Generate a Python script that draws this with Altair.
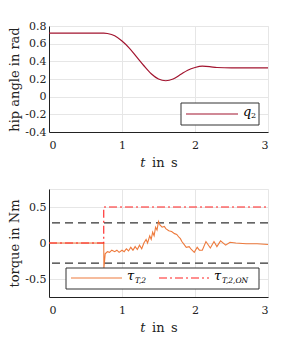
import altair as alt
import pandas as pd

# hip angle q2
q_t = [0.0, 0.75, 0.8, 0.9, 1.0, 1.1, 1.2, 1.3, 1.4, 1.5, 1.6, 1.7, 1.8, 1.9, 2.0, 2.1, 2.2, 2.3, 2.5, 3.0]
q_v = [0.72, 0.72, 0.715, 0.69, 0.63, 0.55, 0.45, 0.35, 0.26, 0.2, 0.18, 0.2, 0.25, 0.3, 0.33, 0.345, 0.34, 0.33, 0.325, 0.325]

# torque tau_T,2
tau_t = [0.0, 0.75, 0.752, 0.77, 0.8, 0.83, 0.86, 0.9, 0.93, 0.96, 1.0, 1.03, 1.06, 1.09, 1.12, 1.15,
         1.18, 1.21, 1.24, 1.27, 1.3, 1.33, 1.35, 1.38, 1.4, 1.42, 1.44, 1.46, 1.48, 1.5, 1.52, 1.55,
         1.58, 1.6, 1.64, 1.68, 1.72, 1.75, 1.78, 1.8, 1.82, 1.85, 1.88, 1.92, 1.95, 1.99, 2.03,
         2.06, 2.1, 2.15, 2.21, 2.26, 2.3, 2.35, 2.42, 2.48, 2.56, 2.7, 2.85, 3.0]
tau_v = [0.0, 0.0, -0.35, -0.15, -0.12, -0.13, -0.1, -0.12, -0.1, -0.13, -0.1, -0.12, -0.08, -0.11, -0.06, -0.1,
         -0.05, -0.09, -0.03, -0.08, 0.0, 0.05, 0.0, 0.1, 0.05, 0.15, 0.1, 0.22, 0.18, 0.3, 0.25, 0.22,
         0.23, 0.2, 0.17, 0.16, 0.13, 0.12, 0.08, 0.06, 0.02, -0.02, -0.06, -0.05, -0.09, -0.13, -0.06,
         -0.1, -0.1, 0.02, -0.07, 0.02, -0.05, 0.03, -0.03, 0.01, 0.0, -0.01, -0.01, -0.02]

# tau_T,2,ON
on_t = [0.0, 0.75, 0.75, 3.0]
on_v = [0.0, 0.0, 0.5, 0.5]

# limits
lim_v = [0.28, -0.28]

FONT = "DejaVu Serif"
xscale = alt.Scale(domain=[0, 3], nice=False)
xaxis = alt.Axis(values=[0, 1, 2, 3], title="𝑡\u2002in\u2002s", labelExpr="format(datum.value,'d')",
                 labelPadding=7, titlePadding=6)

def lab(fmt):
    return "datum.value == 0 ? '0' : replace(format(datum.value,'" + fmt + "'),'\u2212','-')"

one = pd.DataFrame({"a": [0]})

# ---------- top ----------
qdf = pd.DataFrame({"t": q_t, "q": q_v})
top_line = alt.Chart(qdf).mark_line(color="#a2142f", strokeWidth=1.2, interpolate="monotone").encode(
    x=alt.X("t:Q", scale=xscale, axis=xaxis),
    y=alt.Y("q:Q", scale=alt.Scale(domain=[-0.4, 0.8], nice=False),
            axis=alt.Axis(values=[-0.4, -0.2, 0, 0.2, 0.4, 0.6, 0.8], title="hip angle in rad",
                          labelExpr=lab(".1f"), labelPadding=3, titlePadding=3)),
)
tl_box = alt.Chart(one).mark_rect(fill="white", stroke="#333", strokeWidth=1).encode(
    x=alt.value(132), x2=alt.value(210), y=alt.value(77), y2=alt.value(99))
tl_rule = alt.Chart(one).mark_rule(color="#a2142f", strokeWidth=1.2).encode(
    x=alt.value(137), x2=alt.value(189), y=alt.value(88))
tl_txt = alt.Chart(one).mark_text(text="q", font=FONT, fontStyle="italic", fontSize=13, align="left", baseline="middle").encode(
    x=alt.value(194), y=alt.value(86))
tl_sub = alt.Chart(one).mark_text(text="2", font=FONT, fontSize=8, align="left", baseline="middle").encode(
    x=alt.value(202), y=alt.value(90))
top = alt.layer(top_line, tl_box, tl_rule, tl_txt, tl_sub).properties(width=219, height=106)

# ---------- bottom ----------
taudf = pd.DataFrame({"t": tau_t, "v": tau_v})
ondf = pd.DataFrame({"t": on_t, "v": on_v})
limdf = pd.DataFrame({"v": lim_v})
yscale = alt.Scale(domain=[-0.75, 0.75], nice=False)
yaxis = alt.Axis(values=[-0.5, 0, 0.5], title="torque in Nm", labelExpr=lab(".1f"),
                 labelPadding=3, titlePadding=3)

b_lim = alt.Chart(limdf).mark_rule(color="#333", strokeWidth=1.1, strokeDash=[8, 5]).encode(
    y=alt.Y("v:Q", scale=yscale, axis=yaxis))
b_tau = alt.Chart(taudf).mark_line(color="#ee7a3c", strokeWidth=1.1).encode(
    x=alt.X("t:Q", scale=xscale, axis=xaxis), y=alt.Y("v:Q", scale=yscale, axis=yaxis))
b_on = alt.Chart(ondf).mark_line(color="#ff2020", strokeWidth=1.1, strokeDash=[8, 3, 2, 3]).encode(
    x=alt.X("t:Q", scale=xscale, axis=xaxis), y=alt.Y("v:Q", scale=yscale, axis=yaxis))
bl_box = alt.Chart(one).mark_rect(fill="white", stroke="#333", strokeWidth=1).encode(
    x=alt.value(17), x2=alt.value(210), y=alt.value(79), y2=alt.value(100))
bl_r1 = alt.Chart(one).mark_rule(color="#ee7a3c", strokeWidth=1.1).encode(
    x=alt.value(22), x2=alt.value(73), y=alt.value(89))
bl_r2 = alt.Chart(one).mark_rule(color="#ff2020", strokeWidth=1.1, strokeDash=[8, 3, 2, 3]).encode(
    x=alt.value(110), x2=alt.value(160), y=alt.value(89))
bl_t1 = alt.Chart(one).mark_text(text="τ", font=FONT, fontStyle="italic", fontSize=13, align="left", baseline="middle").encode(
    x=alt.value(78), y=alt.value(87))
bl_s1 = alt.Chart(one).mark_text(text="T,2", font=FONT, fontStyle="italic", fontSize=7.5, align="left", baseline="middle").encode(
    x=alt.value(86), y=alt.value(92))
bl_t2 = alt.Chart(one).mark_text(text="τ", font=FONT, fontStyle="italic", fontSize=13, align="left", baseline="middle").encode(
    x=alt.value(165), y=alt.value(87))
bl_s2 = alt.Chart(one).mark_text(text="T,2,ON", font=FONT, fontStyle="italic", fontSize=7.5, align="left", baseline="middle").encode(
    x=alt.value(173), y=alt.value(92))
bottom = alt.layer(b_lim, b_tau, b_on, bl_box, bl_r1, bl_r2, bl_t1, bl_s1, bl_t2, bl_s2).properties(width=219, height=108)

chart = alt.vconcat(top, bottom, spacing=18).properties(
    padding={"left": 0, "top": 11, "right": 5, "bottom": 0}
).configure_axis(
    domainColor="#222", gridColor="#e6e6e6", ticks=False,
    labelFont=FONT, titleFont=FONT, labelFontSize=11, titleFontSize=13,
    titleFontWeight="normal", labelColor="#222", titleColor="#222"
).configure_view(stroke="#e6e6e6")

chart.save("out.html", embed_options={"renderer": "svg", "actions": False})
